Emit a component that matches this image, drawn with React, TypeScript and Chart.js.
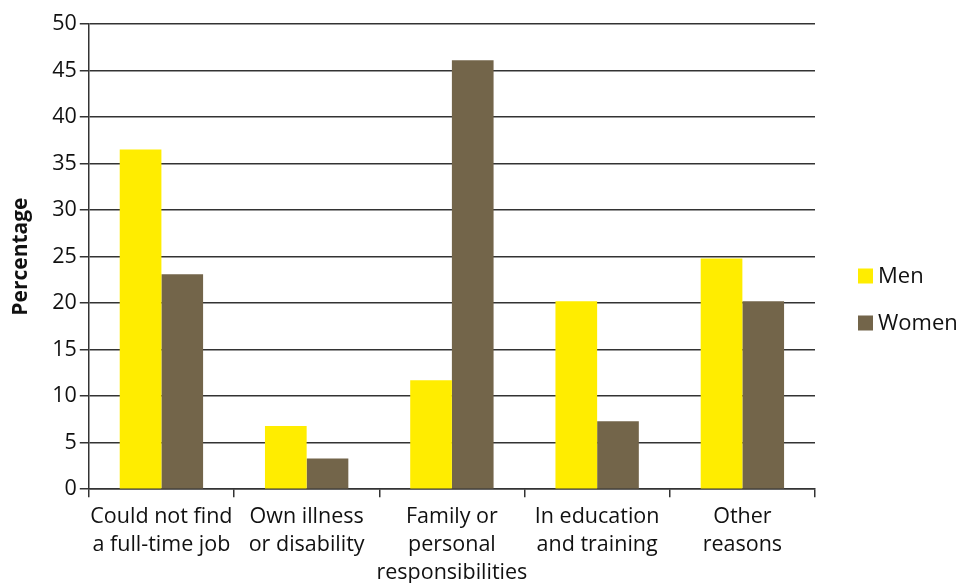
import React, { useEffect, useRef } from "react";
import { Chart, registerables } from "chart.js";

Chart.register(...registerables);

const categories: string[][] = [
  ["Could not find", "a full-time job"],
  ["Own illness", "or disability"],
  ["Family or", "personal", "responsibilities"],
  ["In education", "and training"],
  ["Other", "reasons"],
];
const menValues = [36.5, 6.8, 11.7, 20.2, 24.8];
const womenValues = [23.1, 3.3, 46.1, 7.3, 20.2];
const yTicks = { min: 0, max: 50, step: 5 };

const FONT = "'Open Sans', 'DejaVu Sans', sans-serif";

const rightLegend = {
  id: "rightLegend",
  afterDraw(chart: any) {
    const ctx = chart.ctx;
    const area = chart.chartArea;
    const x = area.right + 43;
    const gap = 47;
    const ds = chart.data.datasets;
    const startY = 276;
    ctx.save();
    ctx.font = `22px ${FONT}`;
    ctx.textBaseline = "middle";
    ctx.textAlign = "left";
    ds.forEach((d: any, i: number) => {
      const cy = startY + i * gap;
      ctx.fillStyle = d.backgroundColor;
      ctx.fillRect(x, cy - 7.5, 15, 15);
      ctx.fillStyle = "#111";
      ctx.fillText(d.label, x + 20, cy + 1);
    });
    ctx.restore();
  },
};

export default function App() {
  const ref = useRef<HTMLCanvasElement>(null);
  useEffect(() => {
    if (!ref.current) return;
    const chart = new Chart(ref.current, {
      type: "bar",
      data: {
        labels: categories,
        datasets: [
          { label: "Men", data: menValues, backgroundColor: "#FFED00", categoryPercentage: 0.574, barPercentage: 1 },
          { label: "Women", data: womenValues, backgroundColor: "#73654A", categoryPercentage: 0.574, barPercentage: 1 },
        ],
      },
      plugins: [rightLegend],
      options: {
        animation: false,
        responsive: false,
        maintainAspectRatio: false,
        layout: { padding: { top: 24, right: 144, bottom: 0, left: 8 } },
        plugins: {
          tooltip: { enabled: false },
          legend: { display: false },
        },
        scales: {
          x: {
            grid: { display: true, drawOnChartArea: false, drawTicks: true, tickLength: 8, color: "#333", lineWidth: 1.5, offset: true },
            border: { display: true, color: "#333", width: 1.5 },
            ticks: { color: "#111", font: { family: FONT, size: 21.5, lineHeight: 1.3 }, maxRotation: 0, autoSkip: false, padding: 6 },
          },
          y: {
            min: yTicks.min,
            max: yTicks.max,
            grid: { color: "#333", lineWidth: 1.5, drawTicks: true, tickLength: 9 },
            border: { display: true, color: "#333", width: 1.5 },
            ticks: { stepSize: yTicks.step, color: "#111", font: { family: FONT, size: 21.5 }, padding: 3 },
            title: { display: true, text: "Percentage", color: "#111", font: { family: FONT, size: 21, weight: "bold" }, padding: { top: 0, bottom: 16 } },
          },
        },
      },
    });
    return () => chart.destroy();
  }, []);
  return (
    <div style={{ position: "fixed", left: 0, top: 0, width: 959, height: 593, background: "#fff" }}>
      <canvas ref={ref} width={959} height={593} />
    </div>
  );
}
